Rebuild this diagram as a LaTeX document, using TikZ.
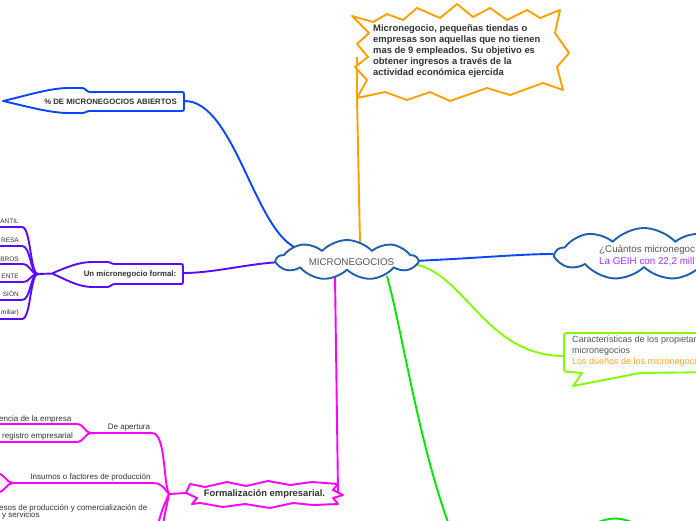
\documentclass[tikz,border=0pt]{standalone}
\usepackage{fontspec}
\setmainfont{Liberation Sans}
\usetikzlibrary{shapes.symbols}
\definecolor{cblue}{RGB}{30,95,175}
\definecolor{bblue}{RGB}{10,70,255}
\definecolor{corange}{RGB}{255,160,0}
\definecolor{cpurple}{RGB}{90,10,255}
\definecolor{clime}{RGB}{128,255,0}
\definecolor{cgreen}{RGB}{0,230,0}
\definecolor{cmag}{RGB}{255,0,255}
\definecolor{ctext}{RGB}{50,50,50}
\definecolor{cgray}{RGB}{85,85,85}
\definecolor{cviolet}{RGB}{160,50,255}
\definecolor{otext}{RGB}{255,165,40}
\pgfdeclarelayer{bg}
\pgfsetlayers{bg,main}
\begin{document}
\begin{tikzpicture}[x=1pt,y=-1pt,line join=round,line cap=round,
  conn/.style={line width=1.9pt},
  shp/.style={line width=1.9pt,fill=white},
  tsmall/.style={inner sep=0pt,text=ctext,font=\fontsize{8}{9.6}\selectfont},
  tcaps/.style={inner sep=0pt,text=ctext,font=\fontsize{6.5}{8}\selectfont},
  tbold/.style={inner sep=0pt,text=ctext,font=\bfseries\fontsize{7.8}{9}\selectfont},
  cloudnode/.style={cloud,draw=cblue,line width=1.9pt,fill=white,inner sep=0pt,cloud puff arc=95}]
\useasboundingbox (0,0) rectangle (696,520);
\clip (0,0) rectangle (696,520);

% ---------- central cloud ----------
\node[cloudnode,cloud puffs=9,aspect=3.5,minimum width=140pt,minimum height=40pt] (center) at (347,260) {};
\node[inner sep=0pt,text=cgray,font=\fontsize{9.8}{11}\selectfont] (centertxt) at (351.5,262) {MICRONEGOCIOS};
\coordinate (cN) at (360,243);
\coordinate (cNW) at (299,249);
\coordinate (cW) at (283,262);
\coordinate (cE) at (414,261);
\coordinate (cSE) at (413,264);
\coordinate (cS) at (387,276);
\coordinate (cSW) at (335,277);

% ---------- orange starburst ----------
\draw[shp,draw=corange] (352,16) -- (373,22) -- (387,14) -- (403,20) -- (417,8) -- (440,18) -- (457,4) -- (473,17) -- (490,8) -- (507,20) -- (527,10) -- (540,18) -- (560,10)
  -- (555,33) -- (569,53) -- (557,67) -- (563,90)
  -- (543,83) -- (510,95) -- (487,88) -- (450,101) -- (430,92) -- (407,100) -- (385,92) -- (357,98)
  -- (367,80) -- (355,67) -- (368,57) -- (357,44) -- (369,33) -- cycle;
\node[inner sep=0pt,anchor=north west,align=left,text=ctext,font=\bfseries\fontsize{9.4}{11}\selectfont] (micro) at (373,24.5)
  {Micronegocio, pequeñas tiendas o\\empresas son aquellas que no tienen\\mas de 9 empleados. Su objetivo es\\obtener ingresos a través de la\\actividad económica ejercida};
\coordinate (orL) at (357,98);
\coordinate (orT) at (357,57);

% ---------- % DE MICRONEGOCIOS ABIERTOS ----------
\draw[shp,draw=bblue] (3,101) .. controls (25,96) and (50,88) .. (68,88) -- (82,88) .. controls (86,88) and (86,92) .. (90,92) -- (181,92) .. controls (184,92) .. (184,95) -- (184,108) .. controls (184,111) .. (181,111) -- (90,111) .. controls (86,111) and (86,113) .. (82,113) -- (68,113) .. controls (50,113) and (25,106) .. (3,101) -- cycle;
\node[tbold] (abiertos) at (110.5,101.5) {\% DE MICRONEGOCIOS ABIERTOS};
\coordinate (abR) at (184,101);

% ---------- Un micronegocio formal ----------
\draw[shp,draw=cpurple] (53,273) .. controls (65,268) and (78,262) .. (92,262) -- (107,262) .. controls (111,262) and (111,264) .. (115,264) -- (180,264) .. controls (183,264) .. (183,267) -- (183,281) .. controls (183,284) .. (180,284) -- (115,284) .. controls (111,284) and (111,287) .. (107,287) -- (92,287) .. controls (78,287) and (65,279) .. (53,274) -- cycle;
\node[tbold] (formal) at (130,274.5) {Un micronegocio formal:};
\coordinate (puR) at (183,273);
\coordinate (puTip) at (53,273.5);
\coordinate (phub) at (38,274);
\foreach \t/\y [count=\i] in {ANTIL/221,RESA/240,BROS/259,ENTE/276.5,SIÓN/294,miliar)/313}{
  \node[tcaps,anchor=east] (pc\i) at (19,\y) {\t};
}
\foreach \y [count=\i] in {227,246,264,282,300,319}{
  \coordinate (pl\i) at (-2,\y);
}

% ---------- right cloud ----------
\node[cloudnode,cloud puffs=9,aspect=3.2,minimum width=176pt,minimum height=52pt] (cuantos) at (644,254) {};
\node[inner sep=0pt,anchor=west,text=cgray,font=\fontsize{9.8}{11}\selectfont] (cu1) at (599,250) {¿Cuántos micronegoc};
\node[inner sep=0pt,anchor=west,text=cviolet,font=\fontsize{9.8}{11}\selectfont] (cu2) at (599,262) {La GEIH con 22,2 mill};

% ---------- lime callout ----------
\draw[shp,draw=clime] (720,333) -- (570,333) .. controls (564,333) .. (564,339) -- (564,366) .. controls (564,372) .. (570,372) -- (582,373) -- (573,386) -- (640,373) -- (720,372);
\node[inner sep=0pt,anchor=north west,align=left,text=cgray,font=\fontsize{9}{10.8}\selectfont] (carac) at (572,336)
  {Características de los propietar\\micronegocios\\\textcolor{otext}{Los dueños de los micronegoci}};
\coordinate (liL) at (564,356);

% ---------- green cloud at bottom ----------
\node[cloud,draw=cgreen,line width=1.9pt,fill=white,cloud puffs=9,cloud puff arc=100,aspect=2.6,minimum width=210pt,minimum height=75pt] (gcloud) at (615,556) {};
\coordinate (gEnd) at (449,525);

% ---------- Formalizacion empresarial ----------
\draw[shp,draw=cmag] (186,493) -- (190,484) -- (205,487) -- (227,482) -- (246,486) -- (268,481) -- (290,485) -- (312,482) -- (338,484) -- (333,490) -- (343,495) -- (333,498) -- (338,504) -- (313,505) -- (293,503) -- (270,508) -- (245,504) -- (223,507) -- (200,503) -- (192,504) -- (197,498) -- cycle;
\node[inner sep=0pt,text=ctext,font=\bfseries\fontsize{9.4}{11}\selectfont] (formaliz) at (264.5,494.5) {Formalización empresarial.};
\coordinate (fmR) at (338,492);
\coordinate (fmL) at (186,493);
\coordinate (mhub) at (169,494);
\coordinate (apHub) at (92,433);
\coordinate (inHub) at (13,483);
\node[tsmall] (apertura) at (129,427.5) {De apertura};
\node[tsmall,anchor=west] (encia) at (-1,419) {encia de la empresa};
\node[tsmall,anchor=west] (registro) at (2,436.5) {registro empresarial};
\node[tsmall] (insumos) at (90.5,477.5) {Insumos o factores de producción};
\node[tsmall,anchor=west] (procesos) at (-1,508) {esos de producción y comercialización de};
\node[tsmall,anchor=west] (servicios) at (2,515.5) {y servicios};

% ---------- connectors ----------
\begin{pgfonlayer}{bg}
  \draw[conn,corange] (cN) -- (orL) -- (orT);
  \draw[conn,bblue] (abR) .. controls (235,100) and (255,235) .. (cNW);
  \draw[conn,bblue] (cE) .. controls (480,258) and (520,254) .. (cuantos.west);
  \draw[conn,clime] (cSE) .. controls (465,272) and (485,356) .. (liL);
  \draw[conn,cgreen] (cS) .. controls (402,330) and (418,440) .. (gEnd);
  \draw[conn,cmag] (cSW) -- (fmR);
  \draw[conn,cpurple] (puR) .. controls (215,273) and (250,263) .. (cW);
  \draw[conn,cpurple] (phub) -- (puTip);
  \foreach \y [count=\i] in {227,246,264,282,300,319}{
    \draw[conn,cpurple] (pl\i) -- (22,\y) .. controls (31,\y) and (30,274) .. (phub);
  }
  \draw[conn,cmag] (mhub) -- (fmL);
  \draw[conn,cmag] (mhub) .. controls (163,482) and (166,433) .. (152,433) -- (apHub);
  \draw[conn,cmag] (apHub) .. controls (84,433) and (85,424) .. (76,424) -- (-2,424);
  \draw[conn,cmag] (apHub) .. controls (84,433) and (85,442) .. (76,442) -- (-2,442);
  \draw[conn,cmag] (mhub) .. controls (164,489) and (163,483) .. (152,483) -- (inHub);
  \draw[conn,cmag] (inHub) .. controls (7,483) and (5,475) .. (-2,473);
  \draw[conn,cmag] (inHub) .. controls (7,483) and (5,491) .. (-2,493);
  \draw[conn,cmag] (mhub) .. controls (164,505) and (161,512) .. (158,525);
  \draw[conn,cmag] (mhub) .. controls (167,505) and (165,512) .. (163,525);
\end{pgfonlayer}
\end{tikzpicture}
\end{document}
